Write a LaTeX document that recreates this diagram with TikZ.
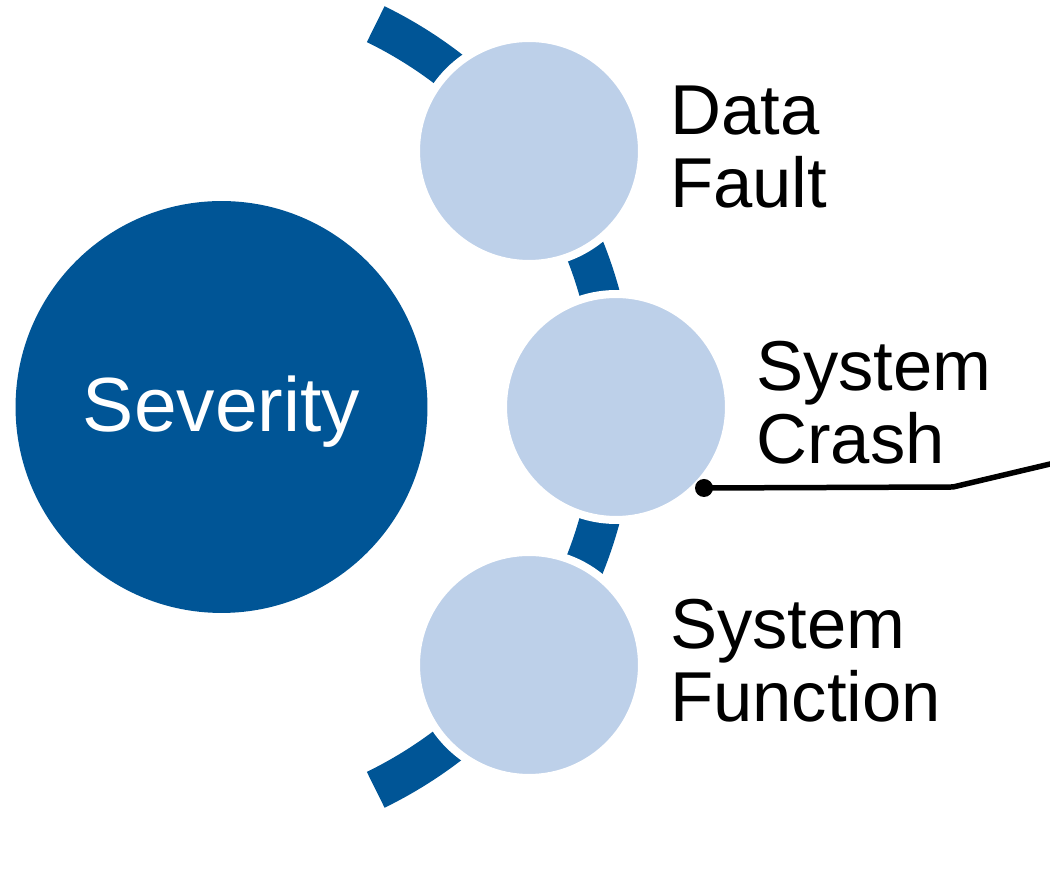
\documentclass[tikz,border=0pt]{standalone}
\usepackage{fontspec}
\setmainfont{Liberation Sans}
\definecolor{sevblue}{RGB}{0,85,150}
\definecolor{itemblue}{RGB}{189,208,233}

\begin{document}
\begin{tikzpicture}[x=0.02cm,y=0.02cm,
    bigcircle/.style={circle, fill=sevblue, minimum size=8.24cm, inner sep=0pt,
      text=white, font=\fontsize{43.7}{48}\selectfont, text height=28.4pt, text depth=0pt},
    itemcircle/.style={circle, fill=itemblue, draw=white, line width=0.16cm,
      minimum size=4.52cm, inner sep=0pt},
    itemtext/.style={anchor=base west, align=left, font=\fontsize{40.2}{42}\selectfont}]
        % Page
        \useasboundingbox (0,0) rectangle (1050,871);
        \clip (0,0) rectangle (1050,871);

        % Main circle
        \node[bigcircle] (severity) at (221.5,464) {Severity};

        % Curved band behind the items
        \coordinate (bandcenter) at (189,464);
        \draw[sevblue, line width=0.8cm] (bandcenter) ++(-64:8.52cm)
            arc[start angle=-64, end angle=64, radius=8.52cm];

        % Items on the band
        \node[itemcircle] (fault) at (529,720) {};
        \node[itemtext] (faulttext) at (664,663) {Data\\Fault};

        \node[itemcircle] (crash) at (616,464) {};
        \node[itemtext] (crashtext) at (750,407) {System\\Crash};

        \node[itemcircle] (function) at (529,206) {};
        \node[itemtext] (functiontext) at (664,149) {System\\Function};

        % Callout line
        \coordinate (calldot) at (704,383);
        \coordinate (callbend) at (953,384);
        \coordinate (callend) at (1070,411.7);
        \draw[line width=0.11cm] (calldot) -- (callbend) -- (callend);
        \fill (calldot) circle[radius=0.18cm];
    \end{tikzpicture}
\end{document}
